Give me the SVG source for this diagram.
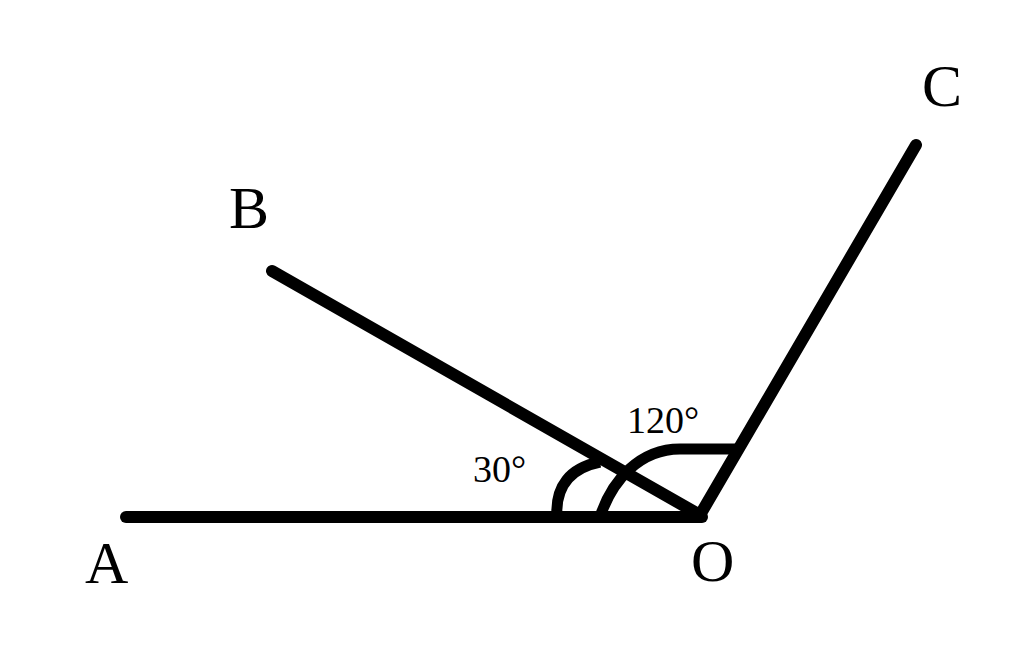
<svg xmlns="http://www.w3.org/2000/svg" width="1024" height="653" viewBox="0 0 1024 653">
<style>
.ray{stroke:#000;stroke-width:12;stroke-linecap:round;stroke-linejoin:round;fill:none}
.arc{stroke:#000;stroke-width:11;stroke-linecap:butt;fill:none}
.pt{font-family:"Liberation Serif","Times New Roman",serif;font-size:60px;fill:#000}
.ang{font-family:"Liberation Serif","Times New Roman",serif;font-size:38px;fill:#000}
</style>
<rect width="1024" height="653" fill="#fff"/>
<g id="connectors">
<path class="ray" d="M126 517 L702 517"/>
<path class="ray" d="M272 271 L700 515"/>
<path class="ray" d="M916 145 L700 515"/>
<path class="arc" d="M557 517 C555 486 570 468 600 462"/>
<path class="arc" d="M600 517 C612 480 640 449 680 449 L740 449"/>
</g>
<g id="A"><text class="pt" x="85" y="583">A</text></g>
<g id="B"><text class="pt" x="229" y="228">B</text></g>
<g id="C"><text class="pt" x="922" y="106">C</text></g>
<g id="O"><text class="pt" x="691" y="581">O</text></g>
<g id="angle30"><text class="ang" x="473" y="482">30°</text></g>
<g id="angle120"><text class="ang" x="627" y="433">120°</text></g>
</svg>
